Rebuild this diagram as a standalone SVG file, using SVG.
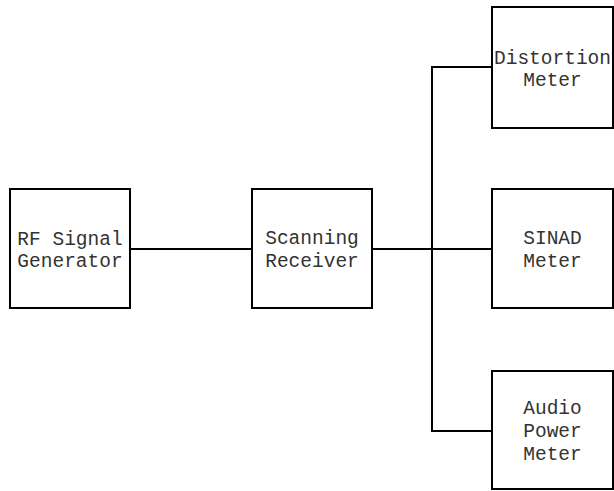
<svg xmlns="http://www.w3.org/2000/svg" width="614" height="491" viewBox="0 0 614 491">
<style>
.box{fill:#fff;stroke:#000;stroke-width:2}
.wire{fill:none;stroke:#000;stroke-width:2}
text{font-family:"Liberation Mono","Courier New",monospace;font-size:19.5px;fill:#333;text-anchor:middle}
</style>
<rect width="614" height="491" fill="#fff"/>
<g id="connectors">
<path class="wire" d="M130,249 H252"/>
<path class="wire" d="M372,249 H492"/>
<path class="wire" d="M492,67 H432 V431 H492"/>
</g>
<g id="rf">
<rect class="box" x="10" y="189" width="120" height="119"/>
<text x="70" y="245">RF Signal</text>
<text x="70" y="267">Generator</text>
</g>
<g id="scanning">
<rect class="box" x="252" y="189" width="120" height="119"/>
<text x="312" y="244">Scanning</text>
<text x="312" y="267">Receiver</text>
</g>
<g id="distortion">
<rect class="box" x="492" y="7" width="121" height="121"/>
<text x="552.5" y="64">Distortion</text>
<text x="552.5" y="86">Meter</text>
</g>
<g id="sinad">
<rect class="box" x="492" y="189" width="121" height="119"/>
<text x="552.5" y="244">SINAD</text>
<text x="552.5" y="267">Meter</text>
</g>
<g id="audio">
<rect class="box" x="492" y="371" width="121" height="118"/>
<text x="552.5" y="414">Audio</text>
<text x="552.5" y="437">Power</text>
<text x="552.5" y="460">Meter</text>
</g>
</svg>
